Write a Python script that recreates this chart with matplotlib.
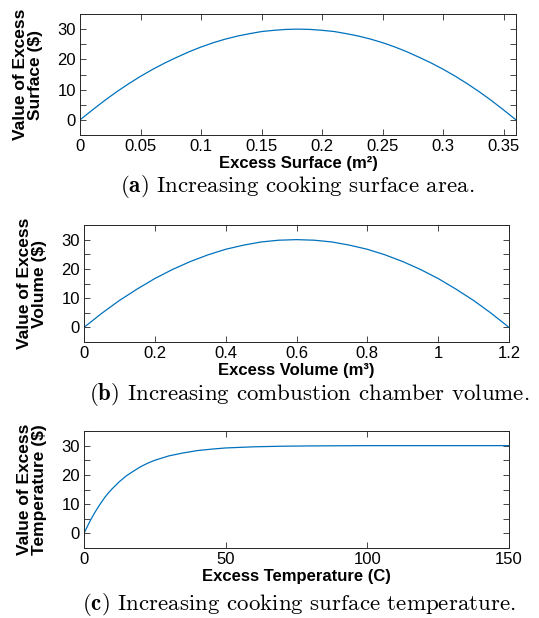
import matplotlib
matplotlib.use("Agg")
import matplotlib.pyplot as plt
from matplotlib.ticker import FixedLocator

plt.rcParams['mathtext.fontset'] = 'cm'
plt.rcParams['font.family'] = ['Liberation Sans', 'DejaVu Sans']

# (a) excess surface vs value
surfX = [0, 0.01, 0.02, 0.03, 0.04, 0.05, 0.06, 0.07, 0.08, 0.09, 0.10, 0.11, 0.12,
         0.13, 0.14, 0.15, 0.16, 0.17, 0.18, 0.19, 0.20, 0.21, 0.22, 0.23, 0.24,
         0.25, 0.26, 0.27, 0.28, 0.29, 0.30, 0.31, 0.32, 0.33, 0.34, 0.35, 0.36]
surfY = [0, 3.2, 6.3, 9.2, 11.9, 14.4, 16.7, 18.8, 20.7, 22.5, 24.1, 25.5, 26.7,
         27.7, 28.5, 29.2, 29.6, 29.9, 30.0, 29.9, 29.6, 29.2, 28.5, 27.7, 26.7,
         25.5, 24.1, 22.5, 20.7, 18.8, 16.7, 14.4, 11.9, 9.2, 6.3, 3.2, 0]

# (b) excess volume vs value
volX = [0, 0.05, 0.1, 0.15, 0.2, 0.25, 0.3, 0.35, 0.4, 0.45, 0.5, 0.55, 0.6,
        0.65, 0.7, 0.75, 0.8, 0.85, 0.9, 0.95, 1.0, 1.05, 1.1, 1.15, 1.2]
volY = [0, 4.8, 9.2, 13.1, 16.7, 19.8, 22.5, 24.8, 26.7, 28.1, 29.2, 29.8, 30.0,
        29.8, 29.2, 28.1, 26.7, 24.8, 22.5, 19.8, 16.7, 13.1, 9.2, 4.8, 0]

# (c) excess temperature vs value
tempX = [0, 1.25, 2.5, 3.75, 5, 6.25, 7.5, 8.75, 10, 12.5, 15, 17.5, 20, 22.5, 25,
         30, 35, 40, 45, 50, 60, 70, 80, 100, 125, 150]
tempY = [0, 2.5, 4.9, 7.0, 9.0, 10.8, 12.5, 14.0, 15.3, 17.7, 19.7, 21.3, 22.8, 24.0, 25.0,
         26.5, 27.5, 28.3, 28.8, 29.2, 29.6, 29.8, 29.9, 30.0, 30.0, 30.0]

W, H = 539, 618
lineCol = "#0072BD"
axCol = "#262626"


def box(l, t, r, b):
    return [l / W, 1 - b / H, (r - l) / W, (b - t) / H]


def makePanel(fig, rect, x, y, xlim, xticks, xlab, ylab, cap, capX, capY):
    ax = fig.add_axes(box(*rect))
    ax.plot(x, y, color=lineCol, lw=0.9)
    ax.set_xlim(*xlim)
    ax.set_ylim(-5, 35)
    ax.xaxis.set_major_locator(FixedLocator(xticks))
    ax.yaxis.set_major_locator(FixedLocator([0, 10, 20, 30]))
    ax.yaxis.set_minor_locator(FixedLocator([-5, 5, 15, 25, 35]))
    ax.tick_params(which='both', direction='in', top=True, right=True,
                   length=4, width=0.6, color=axCol, labelsize=12, pad=3)
    for s in ax.spines.values():
        s.set_color(axCol)
        s.set_linewidth(0.7)
    ax.set_xlabel(xlab, fontsize=12, fontweight='bold', labelpad=1)
    ax.set_ylabel(ylab, fontsize=12.5, fontweight='bold', labelpad=10, linespacing=1.05)
    fig.text(capX / W, 1 - capY / H, cap, ha='center', va='center',
             fontsize=16.5, family='cmr10')
    return ax


def main():
    fig = plt.figure(figsize=(W / 100, H / 100), dpi=100)

    makePanel(fig, (80, 14, 516, 135), surfX, surfY, (0, 0.36),
              [0, 0.05, 0.1, 0.15, 0.2, 0.25, 0.3, 0.35],
              "Excess Surface (m\u00b2)", "Value of Excess\nSurface ($)",
              r"$\mathbf{(a)}$ Increasing cooking surface area.", 297, 187)
    fig.axes[0].set_xticklabels(["0", "0.05", "0.1", "0.15", "0.2", "0.25", "0.3", "0.35"])

    makePanel(fig, (84, 225, 509, 342), volX, volY, (0, 1.2),
              [0, 0.2, 0.4, 0.6, 0.8, 1.0, 1.2],
              "Excess Volume (m\u00b3)", "Value of Excess\nVolume ($)",
              r"$\mathbf{(b)}$ Increasing combustion chamber volume.", 309, 394)
    fig.axes[1].set_xticklabels(["0", "0.2", "0.4", "0.6", "0.8", "1", "1.2"])

    makePanel(fig, (84, 431, 509, 548), tempX, tempY, (0, 150),
              [0, 50, 100, 150],
              "Excess Temperature (C)", "Value of Excess\nTemperature ($)",
              r"$\mathbf{(c)}$ Increasing cooking surface temperature.", 299, 605)

    fig.savefig("out.png", dpi=100)
    return 0


if __name__ == '__main__':
    import sys
    sys.exit(main())
